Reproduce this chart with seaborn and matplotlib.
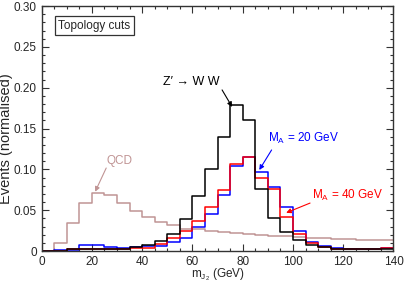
import numpy as np
import pandas as pd
import matplotlib
matplotlib.use("Agg")
import matplotlib.pyplot as plt
import seaborn as sns
from matplotlib.ticker import MultipleLocator

edges = list(range(0, 145, 5))
centers = [e + 2.5 for e in edges[:-1]]

qcd = [0, 0.0094, 0.0347, 0.0584, 0.0707, 0.069, 0.0592, 0.0494, 0.042, 0.036,
       0.032, 0.0275, 0.0265, 0.025, 0.023, 0.022, 0.021, 0.020, 0.019, 0.018,
       0.017, 0.0165, 0.016, 0.015, 0.0145, 0.014, 0.0135, 0.013]
zprime = [0, 0, 0.0027, 0.0027, 0.003, 0.003, 0.0025, 0.0045, 0.007, 0.0122,
          0.0204, 0.039, 0.067, 0.101, 0.140, 0.179, 0.1605, 0.0756, 0.0408, 0.0237,
          0.0135, 0.0074, 0.0045, 0.003, 0.002, 0.002, 0.002, 0.003]
ma40 = [0, 0, 0.002, 0.002, 0.0027, 0.0027, 0.002, 0.0035, 0.004, 0.009,
        0.0155, 0.024, 0.037, 0.054, 0.0745, 0.1066, 0.1148, 0.0898, 0.0756, 0.042,
        0.0204, 0.0094, 0.0053, 0.0024, 0.002, 0.002, 0.002, 0.0035]
ma20 = [0, 0.001, 0.0015, 0.0077, 0.0077, 0.0045, 0.0033, 0.0045, 0.006, 0.006,
        0.0106, 0.0165, 0.0295, 0.046, 0.0686, 0.104, 0.1148, 0.0964, 0.0788, 0.0543,
        0.0245, 0.0106, 0.006, 0.0033, 0.003, 0.002, 0.003, 0.004]

series = {"QCD": qcd, "MA20": ma20, "MA40": ma40, "Zprime": zprime}
colors = {"QCD": "#c09494", "MA20": "#0000ff", "MA40": "#ff0000", "Zprime": "#000000"}

sns.set_theme(style="ticks")
plt.rcParams['font.family'] = ['Liberation Sans', 'DejaVu Sans']

fig = plt.figure(figsize=(4.04, 2.86), dpi=100)
ax = fig.add_axes([0.103, 0.122, 0.871, 0.857])

for name, vals in series.items():
    df = pd.DataFrame({"m": centers, "w": vals})
    sns.histplot(data=df, x="m", weights="w", bins=edges, element="step",
                 fill=False, color=colors[name], linewidth=1.1, ax=ax)

ax.set_xlim(0, 140)
ax.set_ylim(0, 0.30)
ax.xaxis.set_major_locator(MultipleLocator(20))
ax.xaxis.set_minor_locator(MultipleLocator(5))
ax.yaxis.set_minor_locator(MultipleLocator(0.01))
ax.set_yticks([0, 0.05, 0.10, 0.15, 0.20, 0.25, 0.30])
ax.set_yticklabels(["0", "0.05", "0.10", "0.15", "0.20", "0.25", "0.30"])
ax.tick_params(which="both", direction="in", top=True, right=True, labelsize=8.5,
               color="#333333", width=0.8)
ax.tick_params(which="major", length=5)
ax.tick_params(which="minor", length=2.5)
for s in ax.spines.values():
    s.set_linewidth(1.0)
    s.set_color("#333333")

ax.set_xlabel(r"m$_{\mathregular{J_2}}$ (GeV)", fontsize=8.5, labelpad=-1)
ax.set_ylabel("Events (normalised)", fontsize=10.5)
ax.yaxis.set_label_coords(-0.082, 0.459)

ax.text(6.6, 0.276, "Topology cuts", fontsize=8.5, va="center", ha="left",
        bbox=dict(boxstyle="square,pad=0.3", fc="white", ec="#333333", lw=0.9))

def label(text, tx, ty, ax0, ay0, ax1, ay1, color, fs=8.5):
    ax.text(tx, ty, text, fontsize=fs, color=color, ha="left", va="center")
    ax.annotate("", xy=(ax1, ay1), xytext=(ax0, ay0),
                arrowprops=dict(arrowstyle="-|>", lw=0.8, mutation_scale=7,
                                color=color, shrinkA=0, shrinkB=0))

label("Z\u2032 \u2192 W W", 48.3, 0.207, 71.8, 0.1973, 75.8, 0.1765, "black", fs=9)
label(r"M$_\mathregular{A}$ = 20 GeV", 90.1, 0.1385, 91.5, 0.1238, 86.6, 0.0993, "#0000ff")
label(r"M$_\mathregular{A}$ = 40 GeV", 107.5, 0.0686, 106.8, 0.0588, 97.3, 0.0469, "#ff0000")
label("QCD", 25.7, 0.1107, 25.7, 0.1017, 21.3, 0.0727, "#c09494")

fig.savefig("out.png", dpi=100)
